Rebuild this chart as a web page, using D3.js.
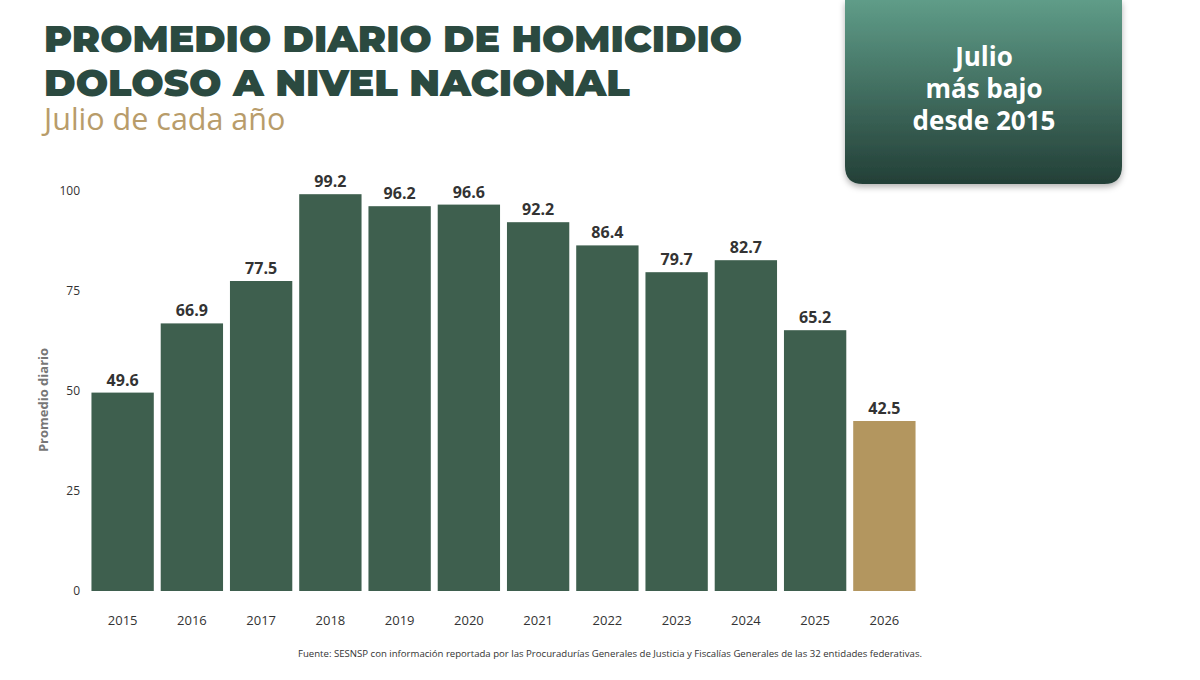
<!DOCTYPE html>
<html><head><meta charset="utf-8">
<script src="https://cdn.jsdelivr.net/npm/d3@7"></script>
<style>body{margin:0;background:#fff;font-family:"Open Sans",sans-serif}</style>
</head><body><div id="chart"></div>
<script>
const years = ["2015","2016","2017","2018","2019","2020","2021","2022","2023","2024","2025","2026"];
const values = [49.6, 66.9, 77.5, 99.2, 96.2, 96.6, 92.2, 86.4, 79.7, 82.7, 65.2, 42.5];
const yTicks = [0, 25, 50, 75, 100];

const width = 1200, height = 680;
const svg = d3.select("#chart").append("svg").attr("width", width).attr("height", height);

// title
const title = svg.append("g").attr("font-family", "Montserrat, Poppins, 'DejaVu Sans', sans-serif")
  .attr("font-weight", 900).attr("fill", "#2b4a40");
title.append("text").attr("x", 44).attr("y", 52).attr("font-size", 38).attr("textLength", 698)
  .attr("lengthAdjust", "spacingAndGlyphs").text("PROMEDIO DIARIO DE HOMICIDIO");
title.append("text").attr("x", 44).attr("y", 96).attr("font-size", 38).attr("textLength", 586)
  .attr("lengthAdjust", "spacingAndGlyphs").text("DOLOSO A NIVEL NACIONAL");
svg.append("text").attr("x", 44).attr("y", 130).attr("font-size", 30.5).attr("fill", "#b89c6a")
  .text("Julio de cada año");

// callout box
const defs = svg.append("defs");
const grad = defs.append("linearGradient").attr("id", "bx").attr("x1", 0).attr("y1", 0).attr("x2", 0).attr("y2", 1);
grad.append("stop").attr("offset", "0%").attr("stop-color", "#5f9c88");
grad.append("stop").attr("offset", "100%").attr("stop-color", "#233f37");
const f = defs.append("filter").attr("id", "sh").attr("x", "-10%").attr("y", "-10%").attr("width", "120%").attr("height", "130%");
f.append("feDropShadow").attr("dx", 0).attr("dy", 3).attr("stdDeviation", 3).attr("flood-opacity", 0.3);
svg.append("path").attr("filter", "url(#sh)").attr("fill", "url(#bx)")
  .attr("d", "M845,0 H1122 V166 Q1122,184 1104,184 H863 Q845,184 845,166 Z");
["Julio", "más bajo", "desde 2015"].forEach((t, i) => {
  svg.append("text").attr("x", 984).attr("y", 66 + i * 32).attr("text-anchor", "middle")
    .attr("font-size", 26).attr("font-weight", 700).attr("fill", "#fff").text(t);
});

// scales
const x = d3.scaleBand().domain(years).range([88, 919]).paddingInner(0.1).paddingOuter(0.05);
const y = d3.scaleLinear().domain([0, 100]).range([591, 191]);

const yAxis = svg.append("g").attr("transform", "translate(80,0)")
  .call(d3.axisLeft(y).tickValues(yTicks).tickSize(0).tickPadding(0));
yAxis.select(".domain").remove();
yAxis.selectAll("text").attr("font-size", 12).attr("fill", "#333").attr("font-family", "'Open Sans',sans-serif");

const xAxis = svg.append("g").attr("transform", "translate(0,611)")
  .call(d3.axisBottom(x).tickSize(0).tickPadding(5));
xAxis.select(".domain").remove();
xAxis.selectAll("text").attr("font-size", 13).attr("fill", "#333").attr("font-family", "'Open Sans',sans-serif");

svg.append("text").attr("transform", "translate(48,400) rotate(-90)").attr("text-anchor", "middle")
  .attr("font-size", 13).attr("font-weight", 700).attr("fill", "#777").text("Promedio diario");

svg.selectAll("rect.bar").data(values).enter().append("rect").attr("class", "bar")
  .attr("x", (d, i) => x(years[i])).attr("width", x.bandwidth())
  .attr("y", d => y(d)).attr("height", d => y(0) - y(d))
  .attr("fill", (d, i) => i === values.length - 1 ? "#b3965f" : "#3e5f4e");

svg.selectAll("text.lbl").data(values).enter().append("text").attr("class", "lbl")
  .attr("x", (d, i) => x(years[i]) + x.bandwidth() / 2).attr("y", d => y(d) - 7)
  .attr("text-anchor", "middle").attr("font-size", 16).attr("font-weight", 700).attr("fill", "#333")
  .text(d => d.toFixed(1));

svg.append("text").attr("x", 610).attr("y", 657).attr("text-anchor", "middle")
  .attr("font-size", 9.6).attr("fill", "#333")
  .text("Fuente: SESNSP con información reportada por las Procuradurías Generales de Justicia y Fiscalías Generales de las 32 entidades federativas.");
</script>
</body></html>
